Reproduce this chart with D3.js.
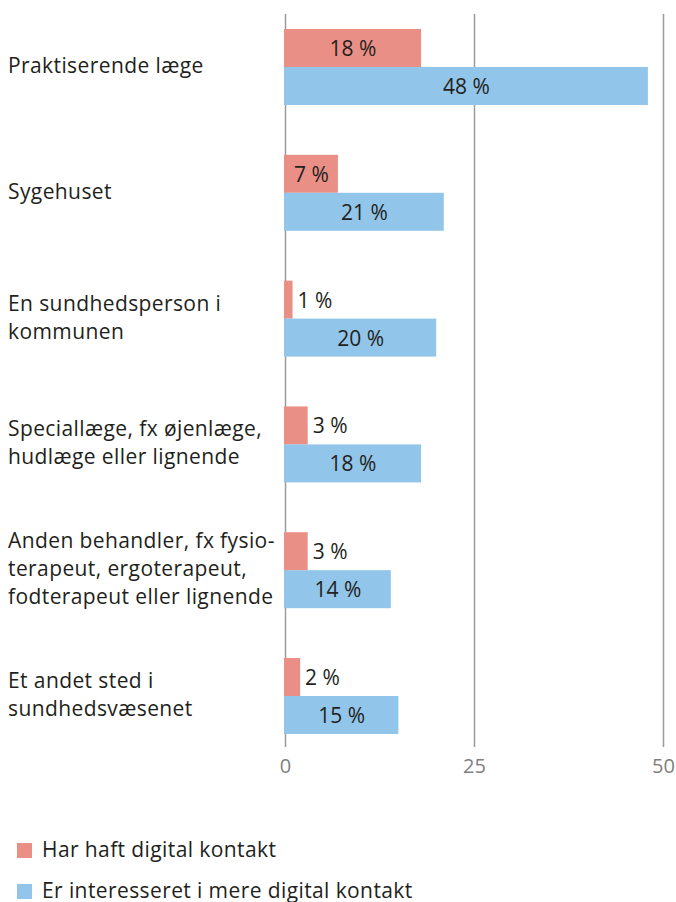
<!DOCTYPE html>
<html>
<head>
<meta charset="utf-8">
<script src="https://cdn.jsdelivr.net/npm/d3@7"></script>
<style>
  body { margin: 0; background: #fff; }
  text { font-family: "Open Sans", sans-serif; }
</style>
</head>
<body>
<script>
// categories (line breaks as in the original)
var categories = [
    "Praktiserende læge",
    "Sygehuset",
    "En sundhedsperson i\nkommunen",
    "Speciallæge, fx øjenlæge,\nhudlæge eller lignende",
    "Anden behandler, fx fysio-\nterapeut, ergoterapeut,\nfodterapeut eller lignende",
    "Et andet sted i\nsundhedsvæsenet"
];
var series = ["Har haft digital kontakt", "Er interesseret i mere digital kontakt"];
var hadContact = [18, 7, 1, 3, 3, 2];
var interested = [48, 21, 20, 18, 14, 15];
var ticks = [0, 25, 50];
var colors = ["#ea8f86", "#92c5ea"];

var width = 676,
    height = 902;

var svg = d3.select("body")
    .append("svg")
    .attr("width", width)
    .attr("height", height);

var x = d3.scaleLinear().domain([0, 50]).range([285, 663]);

var y = d3.scaleBand()
    .domain(categories)
    .range([29, 734])
    .paddingInner(0.396)
    .paddingOuter(0);

var inner = d3.scaleBand()
    .domain([0, 1])
    .range([0, y.bandwidth()]);

//gridlines + tick labels
var axis = d3.axisBottom(x).tickValues(ticks).tickSize(747 - 14).tickFormat(d3.format("d"));
var ax = svg.append("g")
    .attr("transform", "translate(0,14)")
    .call(axis);
ax.select(".domain").remove();
ax.selectAll(".tick line").attr("stroke", "#9b9b9b").attr("stroke-width", 1.5);
ax.selectAll(".tick text")
    .attr("fill", "#7f7f7f")
    .attr("font-size", 20)
    .attr("dy", 0)
    .attr("y", 747 - 14 + 26);

var values = [hadContact, interested];

values.forEach(function(vals, s) {
    var g = svg.append("g");
    g.selectAll("rect")
        .data(categories)
        .enter()
        .append("rect")
        .attr("x", x(0) - 1)
        .attr("y", function(d) { return y(d) + inner(s); })
        .attr("width", function(d, i) { return x(vals[i]) - x(0) + 1; })
        .attr("height", inner.bandwidth())
        .attr("fill", colors[s]);

    g.selectAll("text")
        .data(categories)
        .enter()
        .append("text")
        .attr("x", function(d, i) {
            return vals[i] < 5 ? x(vals[i]) + 5 : (x(0) + x(vals[i])) / 2;
        })
        .attr("y", function(d) { return y(d) + inner(s) + inner.bandwidth() / 2 + 8; })
        .attr("text-anchor", function(d, i) { return vals[i] < 5 ? "start" : "middle"; })
        .attr("font-size", 21)
        .attr("fill", "#231f20")
        .text(function(d, i) { return vals[i] + " %"; });
});

//category labels
var lineH = 28;
svg.append("g").selectAll("text")
    .data(categories)
    .enter()
    .append("text")
    .attr("font-size", 21)
    .attr("letter-spacing", 0.4)
    .attr("fill", "#231f20")
    .each(function(d) {
        var lines = d.split("\n");
        var cy = y(d) + y.bandwidth() / 2;
        var t = d3.select(this);
        lines.forEach(function(l, k) {
            t.append("tspan")
                .attr("x", 8)
                .attr("y", cy + 6 + (k - (lines.length - 1) / 2) * lineH)
                .text(l);
        });
    });

//legend
var legend = svg.append("g").selectAll("g")
    .data(series)
    .enter()
    .append("g")
    .attr("transform", function(d, i) { return "translate(17," + (843 + i * 41) + ")"; });
legend.append("rect")
    .attr("width", 15)
    .attr("height", 15)
    .attr("fill", function(d, i) { return colors[i]; });
legend.append("text")
    .attr("x", 25)
    .attr("y", 14)
    .attr("font-size", 21)
    .attr("letter-spacing", 0.4)
    .attr("fill", "#231f20")
    .text(function(d) { return d; });
</script>
</body>
</html>
